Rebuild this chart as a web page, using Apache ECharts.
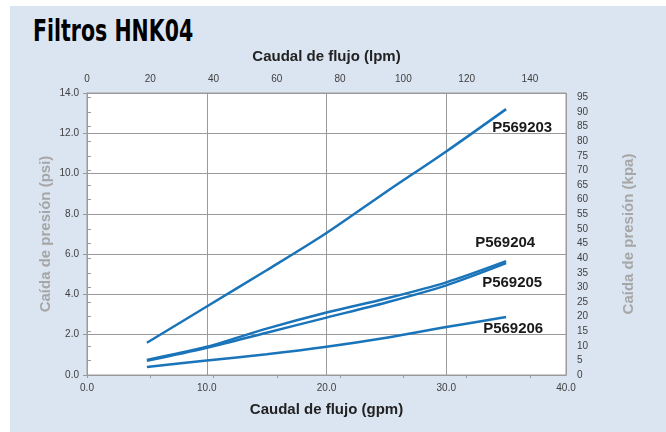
<!DOCTYPE html>
<html><head><meta charset="utf-8">
<script src="https://cdn.jsdelivr.net/npm/echarts@6/dist/echarts.min.js"></script>
<style>
html,body{margin:0;padding:0;background:#fff;}
#bg{position:absolute;left:10px;top:6px;width:656px;height:426px;background:#dbe5f1;}
#title{position:absolute;left:33px;top:13px;font-family:"DejaVu Sans Condensed","DejaVu Sans",sans-serif;font-weight:bold;font-size:30px;color:#000;transform:scaleX(0.76);transform-origin:0 0;white-space:nowrap;}
#c{position:absolute;left:0;top:0;width:666px;height:432px;}
</style></head>
<body>
<div id="bg"></div>
<div id="title">Filtros HNK04</div>
<div id="c"></div>
<script>
const flowGpm = [5, 10, 15, 20, 25, 30, 35];
const p569203 = [1.6, 3.4, 5.2, 7.05, 9.1, 11.1, 13.2];
const p569204 = [0.75, 1.4, 2.3, 3.1, 3.8, 4.6, 5.65];
const p569205 = [0.7, 1.35, 2.1, 2.85, 3.6, 4.45, 5.55];
const p569206 = [0.4, 0.72, 1.03, 1.4, 1.85, 2.38, 2.88];
const seriesNames = ['P569203', 'P569204', 'P569205', 'P569206'];
const GPM_TO_LPM = 3.785;
const PSI_TO_KPA = 6.895;

const lineColor = '#1a74ba';
const labelOffsets = [[-14, 19], [-31, -18], [-24, 20], [-23, 12]];
const allData = [p569203, p569204, p569205, p569206];

const chart = echarts.init(document.getElementById('c'), null, {renderer: 'canvas'});
const tickFont = {fontFamily: 'Liberation Sans, Arial, sans-serif', fontSize: 10, color: '#404040'};
const axisLine = {show: true, lineStyle: {color: '#9a9a9a', width: 1}};
const nameFont = {fontFamily: 'Liberation Sans, Arial, sans-serif', fontWeight: 'bold', fontSize: 15};
chart.setOption({
  animation: false,
  backgroundColor: 'transparent',
  grid: {left: 87, right: 100, top: 93, bottom: 57, show: true, backgroundColor: '#ffffff', borderColor: '#9a9a9a', borderWidth: 1},
  xAxis: [
    {type: 'value', position: 'bottom', min: 0, max: 40, interval: 10,
     name: 'Caudal de flujo (gpm)', nameLocation: 'middle', nameGap: 27,
     nameTextStyle: Object.assign({color: '#222'}, nameFont),
     axisLine: axisLine, axisTick: {show: false},
     axisLabel: Object.assign({formatter: v => v.toFixed(1), margin: 8}, tickFont),
     splitLine: {show: true, lineStyle: {color: '#9a9a9a', width: 1}}},
    {type: 'value', position: 'top', min: 0, max: 40 * GPM_TO_LPM, interval: 20,
     name: 'Caudal de flujo (lpm)', nameLocation: 'middle', nameGap: 29,
     nameTextStyle: Object.assign({color: '#222'}, nameFont),
     axisLine: axisLine, axisTick: {show: true, inside: true, length: 3, lineStyle: {color: '#9a9a9a'}},
     axisLabel: Object.assign({showMaxLabel: false, margin: 9}, tickFont),
     splitLine: {show: false}}
  ],
  yAxis: [
    {type: 'value', position: 'left', min: 0, max: 14, interval: 2,
     name: 'Caída de presión (psi)', nameLocation: 'middle', nameGap: 34, nameMoveOverlap: false,
     nameTextStyle: Object.assign({color: '#a6a6a6'}, nameFont),
     axisLine: axisLine, axisTick: {show: true, length: 4, lineStyle: {color: '#9a9a9a'}},
     axisLabel: Object.assign({formatter: v => v.toFixed(1), margin: 8}, tickFont),
     splitLine: {show: true, lineStyle: {color: '#9a9a9a', width: 1}}},
    {type: 'value', position: 'right', min: 0, max: 14 * PSI_TO_KPA, interval: 5,
     name: 'Caída de presión (kpa)', nameLocation: 'middle', nameGap: 55,
     nameTextStyle: Object.assign({color: '#a6a6a6'}, nameFont),
     axisLine: axisLine, axisTick: {show: true, length: 4, lineStyle: {color: '#9a9a9a'}},
     axisLabel: Object.assign({showMaxLabel: false, margin: 11}, tickFont),
     splitLine: {show: false}}
  ],
  series: seriesNames.map((name, i) => ({
    name: name, type: 'line', xAxisIndex: 0, yAxisIndex: 0,
    data: flowGpm.map((x, k) => [x, allData[i][k]]),
    smooth: 0.3, showSymbol: false, symbol: 'none',
    lineStyle: {color: lineColor, width: 2.5},
    endLabel: {show: true, formatter: name, distance: 0, offset: labelOffsets[i],
      fontFamily: 'Liberation Sans, Arial, sans-serif', fontWeight: 'bold', fontSize: 15, color: '#1a1a1a'}
  }))
});
</script>
</body></html>
